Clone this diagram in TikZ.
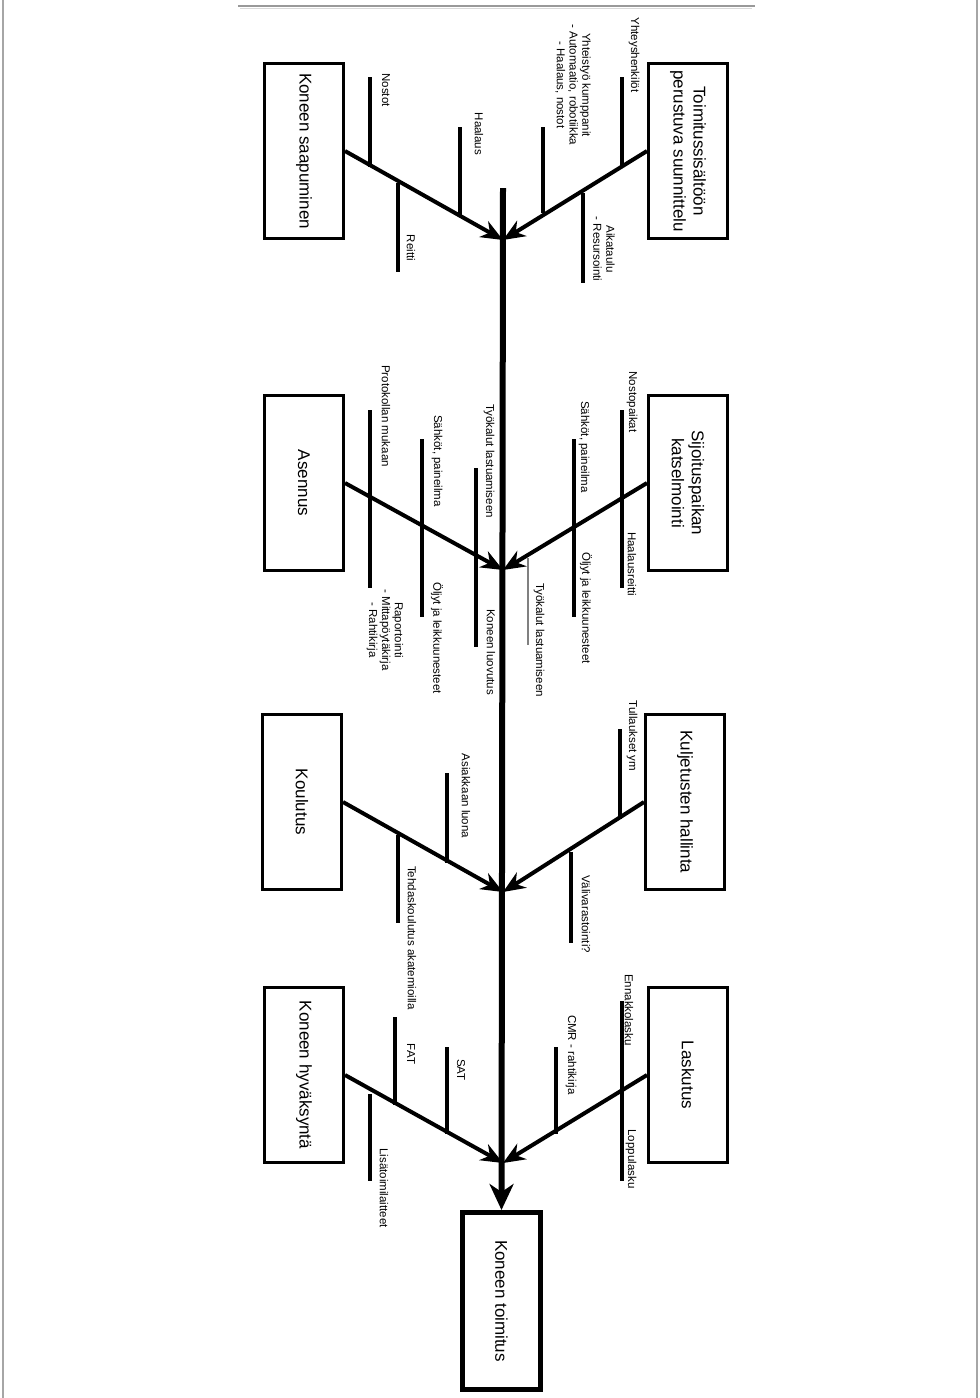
\documentclass[tikz,border=0pt]{standalone}
\usepackage{fontspec}
\setmainfont{Liberation Sans}
\usetikzlibrary{arrows.meta}

\begin{document}
\begin{tikzpicture}[
      x=1pt, y=-1pt,
      every node/.style={font=\fontsize{11.5}{12.8}\selectfont},
      box/.style={rectangle, draw, line width=3pt, rotate=-90, align=center, minimum width=175pt, minimum height=79pt, inner sep=2pt, font=\fontsize{17}{20}\selectfont},
      lastbox/.style={box, line width=5pt, minimum width=177pt, minimum height=78pt},
      lbl/.style={rotate=-90, align=center, inner sep=0pt},
      rib/.style={-{Stealth[length=22pt,width=18pt,inset=7pt]}, line width=4pt},
      spine/.style={-{Stealth[length=26pt,width=24pt,inset=8pt]}, line width=6pt},
      bone/.style={line width=3.5pt}
    ]
      \useasboundingbox (0,0) rectangle (980,1398);
      % page frame
      \draw[gray!70, line width=1.5pt] (3,0) -- (3,1398);
      \draw[gray!70, line width=1.5pt] (977,0) -- (977,1398);
      \draw[gray!80, line width=2pt] (238,6) -- (755,6);
      \draw[gray!30, line width=1pt] (240,8.5) -- (752,8.5);

      % main boxes
      \node[box] (saapuminen) at (304,151) {Koneen saapuminen};
      \node[box] (suunnittelu) at (688,151) {Toimitussisältöön\\perustuva suunnittelu};
      \node[box] (asennus) at (304,483) {Asennus};
      \node[box] (katselmointi) at (688,483) {Sijoituspaikan\\katselmointi};
      \node[box] (koulutus) at (302,802) {Koulutus};
      \node[box] (kuljetus) at (685,802) {Kuljetusten hallinta};
      \node[box] (hyvaksynta) at (304,1075) {Koneen hyväksyntä};
      \node[box] (laskutus) at (688,1075) {Laskutus};
      \node[lastbox] (toimitus) at (501.5,1301) {Koneen toimitus};

      % spine
      \coordinate (top) at (503,188);
      \coordinate (j1) at (503,240);
      \coordinate (j2) at (503,570);
      \coordinate (j3) at (503,892);
      \coordinate (j4) at (503,1163);
      \draw[spine] (top) -- (toimitus.west);

      % ribs
      \draw[rib] (saapuminen.north) -- (j1);
      \draw[rib] (suunnittelu.south) -- (j1);
      \draw[rib] (asennus.north) -- (j2);
      \draw[rib] (katselmointi.south) -- (j2);
      \draw[rib] (koulutus.north) -- (j3);
      \draw[rib] (kuljetus.south) -- (j3);
      \draw[rib] (hyvaksynta.north) -- (j4);
      \draw[rib] (laskutus.south) -- (j4);

      % Koneen saapuminen
      \draw[bone] (370,77) -- (370,167);
      \draw[bone] (398,183) -- (398,272);
      \draw[bone] (460,127) -- (460,215);
      \node[lbl] (nostot) at (386,90) {Nostot};
      \node[lbl] (reitti) at (411,248) {Reitti};
      \node[lbl] (haalaus) at (479,134) {Haalaus};

      % Toimitussisaltoon perustuva suunnittelu
      \draw[bone] (622,77) -- (622,167);
      \draw[bone] (543,127) -- (543,213);
      \draw[bone] (583,193) -- (583,283);
      \node[lbl] (yhteys) at (634,55) {Yhteyshenkilöt};
      \node[lbl] (kumppanit) at (573,85) {Yhteistyö kumppanit\\- Automaatio, robotiikka\\- Haalaus, nostot};
      \node[lbl] (aikataulu) at (604,249) {Aikataulu\\- Resursointi};

      % Asennus
      \draw[bone] (370,410) -- (370,588);
      \draw[bone] (422,439) -- (422,617);
      \draw[bone] (476,468) -- (476,647);
      \node[lbl] (protokolla) at (386,416) {Protokollan mukaan};
      \node[lbl] (raportointi) at (385,630) {Raportointi\\- Mittapöytäkirja\\- Rahtikirja};
      \node[lbl] (sahkotA) at (437,461) {Sähköt, paineilma};
      \node[lbl] (oljytA) at (437,638) {Öljyt ja leikkuunesteet};
      \node[lbl] (tyokalutA) at (489,461) {Työkalut lastuamiseen};
      \node[lbl] (luovutus) at (491,652) {Koneen luovutus};

      % Sijoituspaikan katselmointi
      \draw[bone] (622,410) -- (622,588);
      \draw[bone] (574,439) -- (574,617);
      \draw[gray, line width=2pt] (528,558) -- (528,645);
      \node[lbl] (nostopaikat) at (632,402) {Nostopaikat};
      \node[lbl] (haalausreitti) at (632,564) {Haalausreitti};
      \node[lbl] (sahkotB) at (584,447) {Sähköt, paineilma};
      \node[lbl] (oljytB) at (586,608) {Öljyt ja leikkuunesteet};
      \node[lbl] (tyokalutB) at (539,640) {Työkalut lastuamiseen};

      % Koulutus
      \draw[bone] (447,773) -- (447,863);
      \draw[bone] (398,835) -- (398,923);
      \node[lbl] (asiakas) at (466,796) {Asiakkaan luona};
      \node[lbl] (tehdas) at (412,938) {Tehdaskoulutus akatemioilla};

      % Kuljetusten hallinta
      \draw[bone] (620,729) -- (620,819);
      \draw[bone] (571,852) -- (571,943);
      \node[lbl] (tullaus) at (632,736) {Tullaukset ym};
      \node[lbl] (varasto) at (586,914) {Välivarastointi?};

      % Koneen hyvaksynta
      \draw[bone] (395,1017) -- (395,1105);
      \draw[bone] (447,1047) -- (447,1134);
      \draw[bone] (370,1094) -- (370,1181);
      \node[lbl] (fat) at (411,1054) {FAT};
      \node[lbl] (sat) at (461,1070) {SAT};
      \node[lbl] (lisa) at (384,1188) {Lisätoimilaitteet};

      % Laskutus
      \draw[bone] (622,1001) -- (622,1181);
      \draw[bone] (556,1047) -- (556,1134);
      \node[lbl] (ennakko) at (629,1010) {Ennakkolasku};
      \node[lbl] (loppu) at (631,1159) {Loppulasku};
      \node[lbl] (cmr) at (571,1055) {CMR - rahtikirja};
    \end{tikzpicture}
\end{document}
